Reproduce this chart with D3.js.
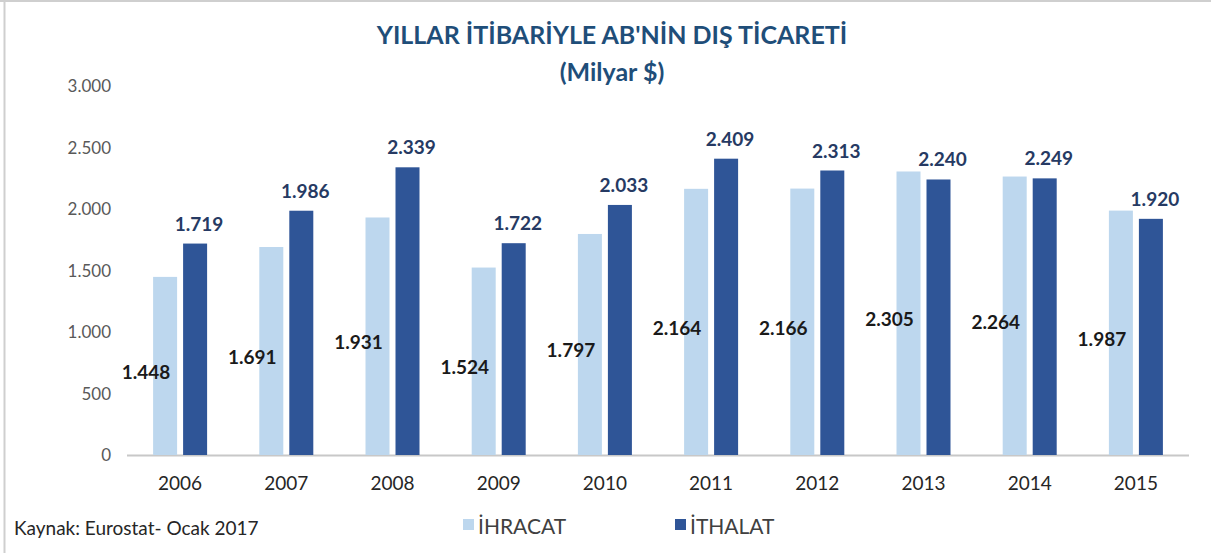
<!DOCTYPE html>
<html>
<head>
<meta charset="utf-8">
<title>AB Dış Ticaret</title>
<script src="https://cdn.jsdelivr.net/npm/d3@7"></script>
<style>
  body { margin: 0; background: #fff; }
  svg { display: block; font-family: Lato, "Open Sans", sans-serif; }
</style>
</head>
<body>
<svg id="chart"></svg>
<script>
// data
const years = ["2006", "2007", "2008", "2009", "2010", "2011", "2012", "2013", "2014", "2015"];
const ihracat = [1448, 1691, 1931, 1524, 1797, 2164, 2166, 2305, 2264, 1987];
const ithalat = [1719, 1986, 2339, 1722, 2033, 2409, 2313, 2240, 2249, 1920];
const yTicks = [0, 500, 1000, 1500, 2000, 2500, 3000];

const W = 1211, H = 553;
const svg = d3.select("#chart").attr("width", W).attr("height", H);

// frame
svg.append("line").attr("x1", 0).attr("x2", W).attr("y1", 1).attr("y2", 1)
  .attr("stroke", "#cfcfcf").attr("stroke-width", 2);
svg.append("line").attr("x1", 4.5).attr("x2", 4.5).attr("y1", 0).attr("y2", H)
  .attr("stroke", "#cfcfcf").attr("stroke-width", 2);

const x = d3.scaleBand().domain(years).range([127, 1189]);
const y = d3.scaleLinear().domain([0, 3000]).range([455, 86]);

const fmt = v => d3.format(",")(v).replace(/,/g, ".");

// title
svg.append("text").attr("x", 612).attr("y", 44).attr("text-anchor", "middle")
  .attr("fill", "#1f4e79").attr("font-weight", "bold").attr("font-size", 25)
  .text("YILLAR İTİBARİYLE AB'NİN DIŞ TİCARETİ");
svg.append("text").attr("x", 612).attr("y", 81).attr("text-anchor", "middle")
  .attr("fill", "#1f4e79").attr("font-weight", "bold").attr("font-size", 25)
  .text("(Milyar $)");

// y axis labels
svg.append("g").selectAll("text").data(yTicks).join("text")
  .attr("x", 111).attr("y", d => y(d) + 6).attr("text-anchor", "end")
  .attr("fill", "#595959").attr("font-size", 17)
  .text(d => fmt(d));

// baseline
svg.append("line").attr("x1", 127).attr("x2", 1189).attr("y1", y(0) + 0.5).attr("y2", y(0) + 0.5)
  .attr("stroke", "#c8c8c8").attr("stroke-width", 2);

// x labels
svg.append("g").selectAll("text").data(years).join("text")
  .attr("x", d => x(d) + x.bandwidth() / 2).attr("y", 490).attr("text-anchor", "middle")
  .attr("fill", "#262626").attr("font-size", 19)
  .text(d => d);

const bw = 24, gap = 6;
const g = svg.append("g");

// İHRACAT bars
g.selectAll(".ihr").data(ihracat).join("rect")
  .attr("class", "ihr")
  .attr("x", (d, i) => x(years[i]) + x.bandwidth() / 2 - gap / 2 - bw)
  .attr("y", d => y(d)).attr("width", bw).attr("height", d => y(0) - y(d))
  .attr("fill", "#bdd7ee");

// İTHALAT bars
g.selectAll(".ith").data(ithalat).join("rect")
  .attr("class", "ith")
  .attr("x", (d, i) => x(years[i]) + x.bandwidth() / 2 + gap / 2)
  .attr("y", d => y(d)).attr("width", bw).attr("height", d => y(0) - y(d))
  .attr("fill", "#2f5597");

// İHRACAT labels (middle, shifted left)
g.selectAll(".ihrl").data(ihracat).join("text")
  .attr("class", "ihrl")
  .attr("x", (d, i) => x(years[i]) + x.bandwidth() / 2 - gap / 2 - bw / 2 - 19)
  .attr("y", d => (y(d) + y(0)) / 2 + 13)
  .attr("text-anchor", "middle").attr("font-weight", "bold").attr("font-size", 19)
  .attr("fill", "#1a1a1a")
  .text(d => fmt(d));

// İTHALAT labels (above)
g.selectAll(".ithl").data(ithalat).join("text")
  .attr("class", "ithl")
  .attr("x", (d, i) => x(years[i]) + x.bandwidth() / 2 + gap / 2 + bw / 2 + 4)
  .attr("y", d => y(d) - 13)
  .attr("text-anchor", "middle").attr("font-weight", "bold").attr("font-size", 19)
  .attr("fill", "#263a63")
  .text(d => fmt(d));

// source
svg.append("text").attr("x", 14).attr("y", 535).attr("fill", "#262626").attr("font-size", 19)
  .text("Kaynak: Eurostat- Ocak 2017");

// legend
const legend = [["İHRACAT", "#bdd7ee", 463], ["İTHALAT", "#2f5597", 675]];
const lg = svg.append("g").selectAll("g").data(legend).join("g")
  .attr("transform", d => `translate(${d[2]},0)`);
lg.append("rect").attr("x", 0).attr("y", 519).attr("width", 11).attr("height", 11).attr("fill", d => d[1]);
lg.append("text").attr("x", 15).attr("y", 534).attr("fill", "#404040").attr("font-size", 21)
  .text(d => d[0]);
</script>
</body>
</html>
